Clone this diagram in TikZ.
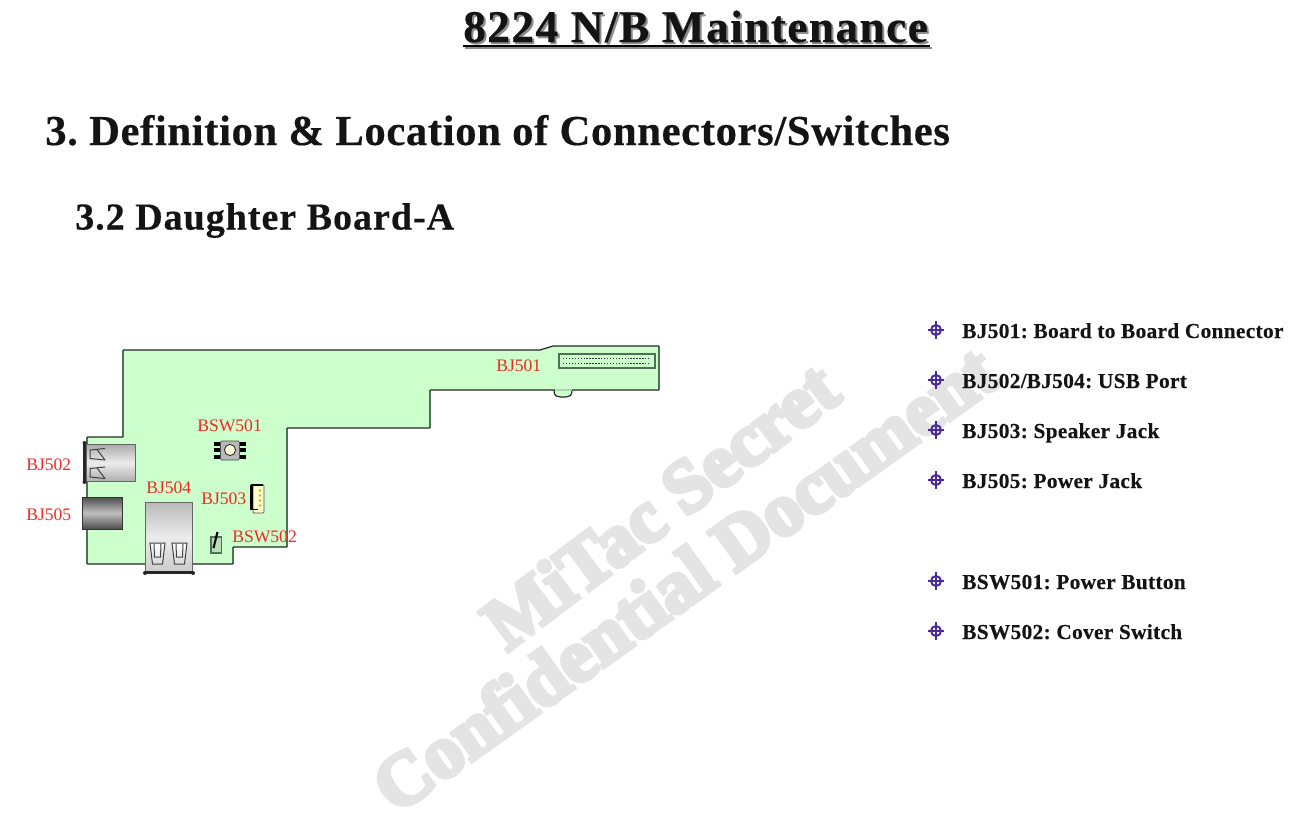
\documentclass[tikz,border=0pt]{standalone}
\usepackage{fontspec}
\setmainfont{Liberation Serif}
\newfontfamily\itemfont[LetterSpace=1.5,FakeBold=0.3]{Liberation Serif}
\newfontfamily\titlefont[LetterSpace=3.1,FakeBold=0.4]{Liberation Serif}
\newfontfamily\honefont[LetterSpace=1.45,FakeBold=0.4]{Liberation Serif}
\newfontfamily\htwofont[LetterSpace=2.6,FakeBold=0.4]{Liberation Serif}
\newfontfamily\wmfont[UprightFont=* Bold,FakeBold=6,LetterSpace=0]{Liberation Serif}
\usetikzlibrary{shadings}
\definecolor{boardgreen}{HTML}{CCFFCC}
\definecolor{boardedge}{HTML}{4F6F57}
\definecolor{labelred}{HTML}{EE2A24}
\definecolor{bulletpurple}{HTML}{4A2A9A}
\definecolor{wmgray}{HTML}{E4E4E4}
\definecolor{inktext}{HTML}{141414}
\tikzset{
  pagetitle/.style={anchor=base west,inner sep=0pt,font=\fontsize{34}{34}\selectfont\bfseries\titlefont},
  headone/.style={anchor=base west,inner sep=0pt,text=inktext,font=\fontsize{32}{32}\selectfont\bfseries\honefont},
  headtwo/.style={anchor=base west,inner sep=0pt,text=inktext,font=\fontsize{28.5}{30}\selectfont\bfseries\htwofont},
  itemtext/.style={anchor=base west,inner sep=0pt,text=inktext,font=\fontsize{16}{16}\selectfont\bfseries\itemfont},
  partlabel/.style={anchor=base west,inner sep=0pt,text=labelred,font=\fontsize{13.2}{13}\selectfont},
  watermark/.style={inner sep=0pt,text=wmgray,font=\fontsize{56}{56}\selectfont\wmfont},
  silver/.style={top color=gray!65,bottom color=gray!65,middle color=gray!15,draw=black!60,line width=0.5pt},
  pinline/.style={line width=0.75pt,black!75},
  darkbar/.style={line width=2.2pt,black!85},
  bulletmark/.pic={
    \draw[bulletpurple,line width=1.5pt] (0,0) circle (5);
    \draw[bulletpurple,line width=1.4pt] (-8,0)--(8,0) (0,-9)--(0,9);
  }
}
\begin{document}
\frenchspacing
\begin{tikzpicture}[x=0.75pt,y=-0.75pt]
\useasboundingbox (0,0) rectangle (1302,835);
% watermark
\node[watermark,rotate=37] (wm1) at (660,505) {MiTac Secret};
\node[watermark,rotate=35.5] (wm2) at (684,578) {Confidential Document};
% titles
\node[pagetitle,text=black!45] (titleshadow) at (465,44) {8224 N/B Maintenance};
\fill[black!45] (465,47) rectangle (932,49);
\node[pagetitle,text=inktext] (title) at (463,42) {8224 N/B Maintenance};
\fill[black] (463,45) rectangle (930,47);
\node[headone] (h1) at (45,145) {3. Definition \& Location of Connectors/Switches};
\node[headtwo] (h2) at (75,229.5) {3.2 Daughter Board-A};
% board
\fill[boardgreen] (123,350)--(540,350)--(553,346)--(659,346)--(659,390)--(430,390)--(430,428)--(287,428)--(287,547)--(233,547)--(233,564)--(87,564)--(87,437)--(123,437)--cycle;
\draw[boardedge,line width=0.9pt] (659,346)--(659,390) (430,390)--(430,428) (287,428)--(287,547) (233,547)--(233,564) (87,564)--(87,437) (123,437)--(123,350);
\draw[black!85,line width=0.9pt] (123,350)--(540,350)--(553,346)--(659,346) (659,390)--(430,390) (430,428)--(287,428) (287,547)--(233,547) (233,564)--(87,564) (87,437)--(123,437);
% BJ501
\draw[black!85,line width=0.9pt,fill=boardgreen] (554,390) .. controls (554,396) and (556,397) .. (563,397) .. controls (570,397) and (572,396) .. (572,390);
\draw[boardgreen!65!gray,line width=0.9pt] (554.5,390)--(571.5,390);
\draw[draw=boardedge,line width=1.5pt,fill=boardgreen] (559,354) rectangle (654.5,367.5);
\foreach \yy in {358.7,363.7}
  \draw[black!80,line width=0.9pt,dash pattern=on 1pt off 1.2pt] (563,\yy)--(651,\yy);
\node[partlabel] (lbj501) at (496,371) {BJ501};
% BSW501
\foreach \yy in {443.5,450,456.5}{
  \draw[black,line width=3pt] (214,\yy)--(222,\yy);
  \draw[black,line width=3pt] (238,\yy)--(246,\yy);
}
\draw[black!70,fill=gray!55,rounded corners=1pt,line width=0.6pt] (220.5,441) rectangle (239.5,460);
\draw[black!80,fill=yellow!15,line width=0.7pt] (230,450) circle (5.6);
\node[partlabel] (lbsw501) at (197,431) {BSW501};
% BJ503
\draw[black!70,fill=yellow!20,line width=0.5pt,rounded corners=0.6pt] (253,485) rectangle (264,513);
\draw[black,line width=1.6pt] (251.5,485)--(251.5,509.5);
\draw[black,line width=1.3pt] (250.5,485)--(263,485) (250.5,509.5)--(258,509.5);
\foreach \yy in {490.5,495.5,500.5,505.5}
  \fill[yellow!70!black] (260,\yy) circle (1.3);
\node[partlabel] (lbj503) at (201,504) {BJ503};
% BSW502
\draw[boardedge,line width=0.8pt,fill=boardgreen!75!gray] (211,537) rectangle (221.5,553);
\draw[black,line width=1.6pt] (213.5,548)--(217.5,532);
\node[partlabel] (lbsw502) at (232,542) {BSW502};
% BJ502
\draw[silver] (86,444.5) rectangle (135,481.5);
\draw[darkbar] (84.5,443)--(84.5,482);
\fill[black!85] (84.5,443) circle (2) (84.5,482) circle (2);
\foreach \yy in {449,467.5}{
  \draw[pinline] (105,\yy-0.5)--(90,\yy+1)--(90,\yy+9.5)--(105,\yy+11);
  \draw[pinline] (97,\yy+0.5)--(105,\yy+11);
}
\node[partlabel] (lbj502) at (26,470) {BJ502};
% BJ505
\path[top color=black!70,bottom color=black!70,middle color=black!25,draw=black!80,line width=0.5pt] (82,497) rectangle (122.5,529);
\node[partlabel] (lbj505) at (26,520) {BJ505};
% BJ504
\path[top color=gray!55,bottom color=gray!40,middle color=gray!15,draw=black!60,line width=0.5pt] (145.5,502) rectangle (192.5,572);
\draw[darkbar] (145,572.5)--(193,572.5);
\fill[black!85] (145,573) circle (2) (193,573) circle (2) (169,573) circle (1);
\foreach \xx in {150,172}{
  \draw[pinline,top color=white,bottom color=gray!30] (\xx,543)--(\xx+15,543)--(\xx+12.5,564)--(\xx+2.5,564)--cycle;
  \draw[pinline] (\xx+4,544)--(\xx+4.5,557)--(\xx+10.5,557)--(\xx+11,544);
}
\node[partlabel] (lbj504) at (146,493) {BJ504};
% list
\foreach \yy/\txt/\nm in {338/BJ501: Board to Board Connector/a,388/BJ502\slash BJ504: USB Port/b,438/BJ503: Speaker Jack/c,488/BJ505: Power Jack/d,589/BSW501: Power Button/e,639/BSW502: Cover Switch/f}{
  \pic at (936,\yy-8) {bulletmark};
  \node[itemtext] (item\nm) at (962,\yy) {\txt};
}
\end{tikzpicture}
\end{document}
